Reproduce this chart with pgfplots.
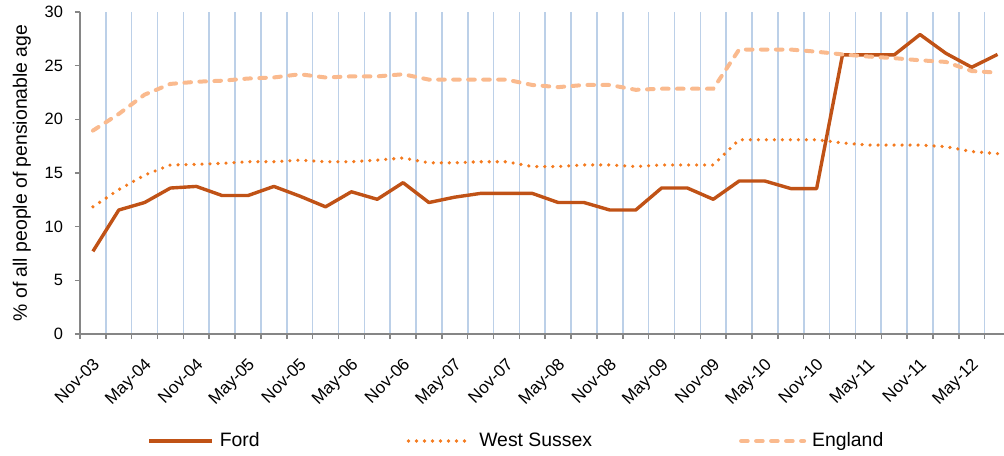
\documentclass[border=0pt]{standalone}
\usepackage{fontspec}
\setmainfont{Liberation Sans}
\usepackage{pgfplots}
\usepackage{pgfplotstable}
\pgfplotsset{compat=1.18}

\definecolor{fordc}{RGB}{192,82,22}
\definecolor{wsc}{RGB}{244,122,30}
\definecolor{engc}{RGB}{250,186,142}
\definecolor{gridblue}{RGB}{188,208,232}
\definecolor{axisgray}{RGB}{134,134,134}

% quarterly points, 0 = Nov-03 ... 35 = Aug-12
\pgfplotstableread{
i  ford   ws     eng
0  7.70   11.85  18.95
1  11.55  13.45  20.50
2  12.25  14.80  22.30
3  13.60  15.75  23.30
4  13.75  15.80  23.50
5  12.90  15.90  23.60
6  12.90  16.05  23.80
7  13.75  16.05  23.90
8  12.85  16.20  24.20
9  11.85  16.05  23.90
10 13.25  16.05  24.00
11 12.55  16.20  24.00
12 14.10  16.40  24.20
13 12.25  15.95  23.70
14 12.75  15.95  23.70
15 13.10  16.05  23.70
16 13.10  16.05  23.70
17 13.10  15.60  23.20
18 12.25  15.60  23.00
19 12.25  15.75  23.20
20 11.55  15.75  23.20
21 11.55  15.60  22.75
22 13.60  15.75  22.85
23 13.60  15.75  22.85
24 12.55  15.75  22.85
25 14.25  18.10  26.50
26 14.25  18.10  26.50
27 13.55  18.10  26.50
28 13.55  18.10  26.30
29 26.00  17.80  26.05
30 26.00  17.60  25.85
31 26.00  17.60  25.70
32 27.90  17.60  25.50
33 26.15  17.45  25.35
34 24.85  17.00  24.50
35 26.05  16.80  24.35
}\data

\newcommand{\tickfont}{\fontsize{8.2}{9.8}\selectfont}
\newcommand{\xtickfont}{\fontsize{8.5}{10.2}\selectfont}
\newcommand{\labelfont}{\fontsize{9.7}{11.6}\selectfont}

\begin{document}
\begin{tikzpicture}
\begin{axis}[
  at={(0pt,0pt)}, anchor=south west,
  scale only axis, width=462pt, height=161pt,
  xmin=-0.5, xmax=35.25, ymin=0, ymax=30,
  axis lines=left,
  axis line style={-, draw=axisgray, line width=0.75pt},
  tick align=outside,
  xtick={0,2,...,34},
  xticklabels={Nov-03,May-04,Nov-04,May-05,Nov-05,May-06,Nov-06,May-07,Nov-07,May-08,Nov-08,May-09,Nov-09,May-10,Nov-10,May-11,Nov-11,May-12},
  minor xtick={-0.5,0.5,...,34.5},
  major x tick style={draw=none},
  minor x tick style={draw=axisgray, line width=0.75pt},
  minor tick length=2.5pt,
  major tick length=2.5pt,
  xminorgrids=true,
  minor grid style={draw=gridblue, line width=0.8pt},
  ytick={0,5,...,30},
  y tick style={draw=axisgray, line width=0.75pt},
  /pgf/number format/assume math mode=true,
  xticklabel style={xshift=-0.5pt, yshift=-8.8pt, rotate=45, anchor=north east, inner sep=0pt, font=\xtickfont},
  yticklabel style={font=\tickfont, xshift=-2.5pt},
  ylabel={\% of all people of pensionable age},
  every axis y label/.style={at={(axis description cs:-0.0628,0.5)}, rotate=90, anchor=center, font=\labelfont},
  legend style={at={(axis description cs:0.0725,-0.3323)}, anchor=west, draw=none, fill=none,
    inner sep=0pt, legend columns=3, font=\labelfont, nodes={inner sep=0pt},
    /tikz/every odd column/.append style={column sep=3pt},
    /tikz/every even column/.append style={column sep=73.5pt}},
  legend cell align=left,
  legend image code/.code={\draw[#1] (0pt,0pt) -- (31.5pt,0pt);},
]
\addplot[fordc, line width=1.7pt, line join=round] table[x=i, y=ford] {\data};
\addlegendentry{Ford}
\addplot[wsc, line width=1.8pt, line cap=round, dash pattern=on 0pt off 4pt] table[x=i, y=ws] {\data};
\addlegendentry{West Sussex}
\addplot[engc, line width=2pt, line cap=round, dash pattern=on 3.3pt off 4.2pt] table[x=i, y=eng] {\data};
\addlegendentry{England}
\end{axis}
\pgfresetboundingbox
\path (-40pt,-60.5pt) rectangle (462pt,167pt);
\end{tikzpicture}
\end{document}
